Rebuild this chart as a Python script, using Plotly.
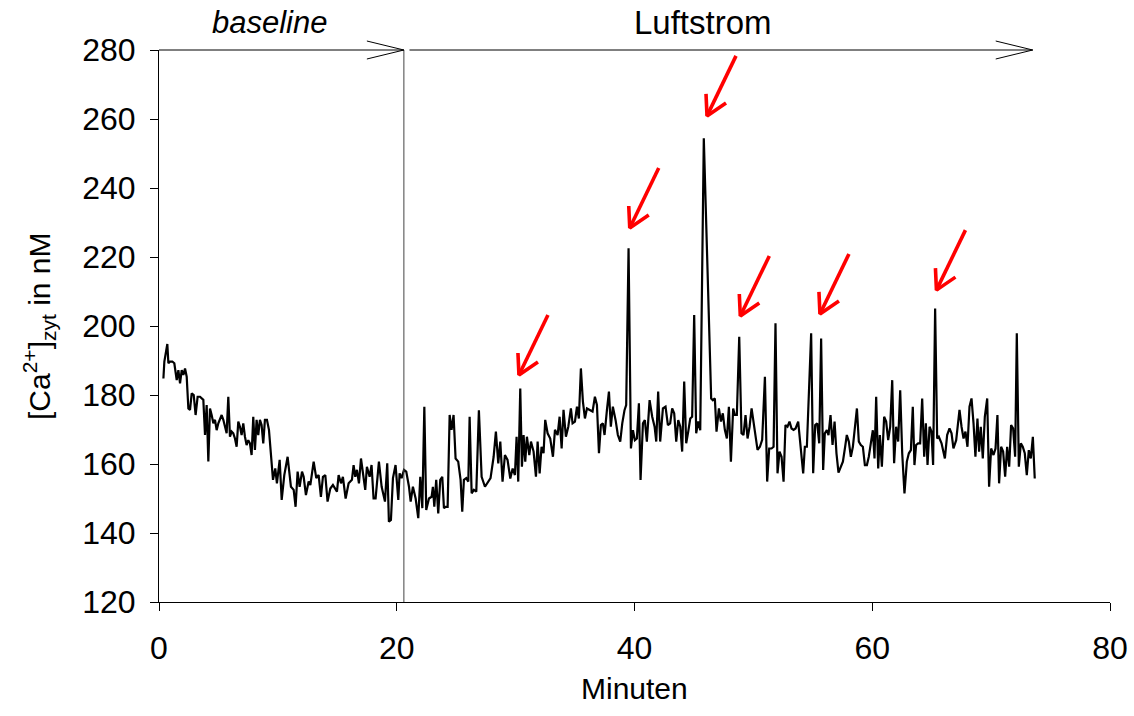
import plotly.graph_objects as go

# ---------------- data ----------------
time_min = [
    0.37, 0.45, 0.70, 0.79, 0.93, 1.12, 1.29, 1.49, 1.63, 1.77, 1.91, 2.05, 2.19, 2.33, 2.47, 2.61, 2.75, 2.92, 3.08, 3.25,
    3.45, 3.59, 3.73, 3.87, 4.01, 4.15, 4.29, 4.43, 4.57, 4.71, 4.85, 4.99, 5.13, 5.27, 5.41, 5.55, 5.69, 5.83, 5.97, 6.11,
    6.25, 6.39, 6.53, 6.67, 6.81, 6.95, 7.09, 7.23, 7.37, 7.51, 7.65, 7.79, 7.93, 8.07, 8.21, 8.35, 8.49, 8.63, 8.77, 8.91,
    9.08, 9.25, 9.59, 9.78, 9.92, 10.15, 10.32, 10.54, 10.82, 11.10, 11.33, 11.49, 11.66, 11.83, 12.03, 12.17, 12.36, 12.59,
    12.73, 13.01, 13.23, 13.43, 13.62, 13.79, 13.99, 14.18, 14.41, 14.63, 14.97, 15.11, 15.31, 15.47, 15.70, 15.95, 16.23,
    16.37, 16.51, 16.65, 16.82, 16.99, 17.21, 17.35, 17.49, 17.72, 17.88, 18.05, 18.22,
    18.50, 18.73, 19.01, 19.20, 19.34, 19.51, 19.68, 19.90, 20.13, 20.24, 20.41, 20.61, 20.80, 21.03, 21.17, 21.36, 21.59,
    21.81, 21.98, 22.15, 22.32, 22.48, 22.71, 22.93, 23.04, 23.16, 23.32, 23.49, 23.66, 23.83, 23.97, 24.11, 24.28, 24.45,
    24.61, 24.78, 24.95, 25.17, 25.37, 25.51, 25.65, 25.85, 26.02, 26.13, 26.30, 26.49, 26.69, 26.91, 27.14, 27.42, 27.70,
    27.89,
    28.15, 28.34, 28.54, 28.71, 28.90, 29.10, 29.32, 29.55, 29.75, 29.94, 30.08, 30.22, 30.39, 30.53, 30.67, 30.81, 30.95,
    31.15, 31.29, 31.51, 31.71, 31.85, 32.02, 32.18, 32.35, 32.49, 32.69, 32.91, 33.14, 33.31, 33.53, 33.70, 33.87, 34.03,
    34.23, 34.43, 34.65, 34.79, 34.99, 35.16, 35.32, 35.49, 35.66, 35.83, 36.00, 36.22, 36.47, 36.67, 36.84, 37.01, 37.17,
    37.34, 37.48, 37.68, 37.85, 38.01, 38.18, 38.41, 38.60, 38.80, 38.97, 39.16, 39.30, 39.50, 39.70, 39.87, 40.03, 40.20,
    40.37, 40.51, 40.71, 40.87, 41.04, 41.27, 41.49, 41.69, 41.83, 41.99, 42.16, 42.39, 42.61, 42.81, 43.00, 43.17, 43.34,
    43.51, 43.68, 43.85, 44.01, 44.18, 44.35, 44.52, 44.69, 44.85, 45.02, 45.19, 45.36, 45.53, 45.83, 46.45, 46.59,
    46.76, 46.90, 47.10, 47.27, 47.43, 47.60, 47.77, 47.94, 48.11, 48.30, 48.44, 48.61, 48.81, 49.00, 49.17, 49.34, 49.51,
    49.68, 49.85, 50.07, 50.35, 50.55, 50.74, 50.97, 51.16, 51.33, 51.53, 51.70, 51.86, 52.03, 52.20, 52.37, 52.54, 52.70,
    52.87, 53.04, 53.21, 53.38, 53.55, 53.77, 53.99, 54.19, 54.33, 54.50, 54.86, 55.03, 55.20, 55.37, 55.54, 55.70, 55.87,
    56.01,
    56.18, 56.32, 56.49, 56.66, 56.83, 56.99, 57.16, 57.36, 57.53, 57.72, 57.86, 58.03, 58.20, 58.37, 58.54, 58.71, 58.87,
    59.04, 59.21, 59.38, 59.55, 59.71, 59.88, 60.05, 60.19, 60.33, 60.50, 60.64, 60.81, 61.00, 61.17, 61.34, 61.51, 61.68,
    61.84, 62.01, 62.18, 62.35, 62.52, 62.71, 62.91, 63.08, 63.25, 63.41, 63.55, 63.69, 63.86, 64.03, 64.20, 64.37, 64.51,
    64.65, 64.82, 64.98, 65.12, 65.29, 65.46,
    65.60, 65.83, 66.11, 66.30, 66.50, 66.67, 66.83, 67.06, 67.34, 67.51, 67.68, 67.84, 68.01, 68.18, 68.35, 68.52, 68.68,
    68.85, 68.99, 69.13, 69.30, 69.47, 69.67, 69.83, 70.00, 70.20, 70.37, 70.53, 70.67, 70.84, 71.01, 71.18, 71.35, 71.52,
    71.68, 71.85, 72.02, 72.16, 72.33, 72.50, 72.66, 72.83, 73.00, 73.17, 73.34, 73.51, 73.67,
]

ca_nM = [
    184.8, 189.7, 194.8, 189.2, 189.7, 189.7, 189.2, 184.3, 187.2, 183.4, 187.2, 185.8, 187.7, 185.3, 176.1, 175.7, 180.5, 180.0, 174.2, 179.5,
    179.5, 179.0, 178.6, 168.4, 177.1, 160.7, 176.1, 174.2, 171.8, 172.8, 169.8, 171.8, 172.8, 174.2, 172.8, 170.8, 168.9, 179.5, 167.9, 169.4,
    168.9, 167.4, 165.0, 172.3, 170.8, 168.4, 171.8, 167.9, 165.5, 166.9, 166.0, 162.6, 173.7, 164.1, 172.8, 168.4, 172.8, 171.3, 166.0, 172.8,
    172.8, 169.9, 155.4, 158.7, 154.4, 161.2, 149.6, 156.8, 162.1, 153.4, 152.5, 147.6, 157.8, 153.4, 157.8, 156.3, 151.0, 154.9,
    153.9, 160.7, 155.9, 156.8, 150.5, 156.3, 156.8, 149.1, 152.9, 153.9, 152.0, 156.8, 154.4, 156.3, 150.0, 154.4, 155.4,
    159.7, 156.3, 158.3, 154.4, 161.6, 156.8, 152.5, 159.2, 156.3, 159.7, 150.0, 150.0,
    160.7, 153.4, 149.1, 160.2, 143.3, 143.8, 155.9, 159.7, 149.6, 157.3, 155.9, 158.3, 157.8, 153.4, 149.1, 153.4, 150.0,
    144.3, 156.3, 147.2, 176.6, 146.7, 150.0, 150.5, 153.4, 147.6, 155.4, 145.7, 155.4, 156.3, 147.2, 147.6, 147.6, 174.2,
    169.9, 174.2, 161.6, 160.7, 155.4, 146.2, 155.4, 155.9, 154.9, 173.7, 151.5, 152.5, 152.0, 175.6, 156.3, 153.4, 154.9,
    155.9,
    162.1, 169.4, 160.2, 166.5, 154.9, 162.6, 161.2, 155.8, 158.7, 156.8, 167.9, 154.9, 181.9, 159.2, 168.4, 160.7, 167.9,
    162.6, 166.5, 163.6, 156.3, 166.5, 157.3, 165.0, 163.1, 172.8, 168.9, 167.4, 162.1, 169.9, 168.4, 173.7, 164.5, 175.7,
    167.9, 170.8, 176.1, 171.8, 172.3, 176.6, 173.2, 187.7, 178.1, 173.2, 176.1, 175.7, 175.2, 179.5, 177.1, 163.1, 171.3,
    171.8, 168.4, 175.6, 181.0, 170.8, 176.6, 172.7, 168.4, 166.5, 171.8, 175.6, 177.1, 222.5, 164.5, 169.8, 166.9, 167.4,
    177.6, 155.4, 171.8, 172.7, 166.5, 178.5, 173.7, 170.8, 166.5, 181.0, 166.5, 176.1, 176.6, 171.3, 171.8, 176.1, 174.7,
    166.5, 172.7, 170.8, 163.6, 183.9, 166.0, 169.4, 173.2, 173.7, 203.2, 168.9, 172.3, 169.8, 254.4, 179.0, 178.5,
    179.0, 169.4, 176.1, 172.3, 174.7, 169.9, 167.4, 176.6, 160.7, 176.1, 174.2, 174.2, 196.9, 168.9, 168.4, 174.2, 167.4,
    170.8, 176.1, 170.3, 164.1, 165.0, 167.0, 185.3, 154.9, 164.5, 164.5, 165.0, 200.8, 157.3, 163.6, 162.1, 154.9, 171.3,
    170.8, 172.3, 170.3, 169.9, 170.3, 172.3, 165.0, 157.3, 165.0, 165.0, 197.9, 157.3, 171.3, 171.8, 166.0, 196.4, 158.3,
    168.9,
    169.8, 168.4, 174.2, 165.5, 172.3, 163.1, 157.5, 159.2, 160.7, 165.0, 168.4, 166.5, 162.1, 165.0, 169.8, 176.1, 166.5,
    165.5, 165.0, 159.7, 159.7, 162.1, 166.0, 169.8, 161.6, 179.5, 158.7, 168.4, 159.2, 173.7, 172.3, 166.9, 170.8, 184.3,
    160.2, 170.8, 166.5, 181.4, 163.1, 151.5, 160.7, 163.1, 164.0, 176.6, 159.7, 165.5, 166.0, 166.0, 179.0, 162.1, 171.8,
    159.7, 170.8, 169.4, 159.7, 205.1, 167.4,
    167.9, 166.0, 161.6, 168.4, 170.3, 168.9, 164.5, 166.9, 175.7, 170.8, 167.4, 169.4, 165.0, 176.6, 179.0, 171.8, 162.1,
    173.2, 163.6, 170.8, 161.6, 173.7, 179.0, 153.4, 164.5, 162.6, 164.5, 174.2, 154.4, 165.0, 163.6, 156.3, 165.0, 159.2,
    171.3, 170.3, 162.1, 197.9, 159.2, 166.0, 165.0, 163.1, 156.8, 164.0, 161.6, 167.9, 155.8,
]

x_ticks = [0, 20, 40, 60, 80]
y_ticks = [120, 140, 160, 180, 200, 220, 240, 260, 280]

# phases (minutes)
phase_names = ["<i>baseline</i>", "Luftstrom"]
phase_start = [0.0, 21.07]
phase_end = [20.6, 73.5]
phase_label_x = [9.3, 45.8]
phase_font = [31, 33]
stim_onset = 20.6

# red arrows: tip position (minute, nM) pointing at the transients
arrow_tip_x = [30.28, 39.6, 46.1, 48.9, 55.6, 65.4]
arrow_tip_y = [185.8, 228.4, 260.9, 202.9, 203.5, 210.4]

# ---------------- layout geometry ----------------
W, H = 1134, 716
ML, MT = 159, 50
PW, PH = 1110 - 159, 602 - 50
MR = W - ML - PW
MB = H - MT - PH
XR = [0, 80]
YR = [120, 280]
FONT = "Liberation Sans, Arial, sans-serif"
TICK_FS = 32
FS = 30


def dx(p):
    return p * (XR[1] - XR[0]) / PW


def dy(p):  # p pixels upward
    return p * (YR[1] - YR[0]) / PH


fig = go.Figure()
fig.add_trace(go.Scatter(x=time_min, y=ca_nM, mode="lines",
                         line=dict(color="black", width=2.2),
                         showlegend=False, hoverinfo="skip"))

# red arrows
ax_, ay_ = [], []
for xt, yt in zip(arrow_tip_x, arrow_tip_y):
    ax_ += [xt + dx(-1), xt, xt + dx(19), None, xt, xt + dx(29), None]
    ay_ += [yt + dy(22), yt, yt + dy(13), None, yt, yt + dy(60), None]
fig.add_trace(go.Scatter(x=ax_, y=ay_, mode="lines",
                         line=dict(color="#ff0000", width=3.6),
                         showlegend=False, hoverinfo="skip"))

shapes = []
# stimulus onset vertical line
xo = (stim_onset - XR[0]) / (XR[1] - XR[0])
shapes.append(dict(type="line", xref="paper", yref="paper", x0=xo, x1=xo, y0=0, y1=1,
                   line=dict(color="#444444", width=1)))
# phase arrows on top
for s, e in zip(phase_start, phase_end):
    xs = (s - XR[0]) / (XR[1] - XR[0])
    xe = (e - XR[0]) / (XR[1] - XR[0])
    shapes.append(dict(type="line", xref="paper", yref="paper", x0=xs, x1=xe, y0=1, y1=1,
                       line=dict(color="black", width=1)))
    hx = 37 / PW
    hy = 9 / PH
    shapes.append(dict(type="path", xref="paper", yref="paper",
                       path=f"M{xe - hx},{1 + hy} L{xe},1 L{xe - hx},{1 - hy}",
                       line=dict(color="black", width=1)))

annotations = []
for name, lx, fs in zip(phase_names, phase_label_x, phase_font):
    annotations.append(dict(text=name, xref="paper", yref="paper",
                            x=(lx - XR[0]) / (XR[1] - XR[0]), y=1 + 28 / PH,
                            xanchor="center", yanchor="middle", showarrow=False,
                            font=dict(family=FONT, size=fs, color="black")))
annotations.append(dict(text="[Ca<sup>2+</sup>]<sub>zyt</sub> in nM", xref="paper", yref="paper",
                        x=(39 - ML) / PW, y=0.5, textangle=-90, xanchor="center", yanchor="middle",
                        showarrow=False, font=dict(family=FONT, size=FS, color="black")))
annotations.append(dict(text="Minuten", xref="paper", yref="paper",
                        x=0.5, y=-(688 - 602) / PH, xanchor="center", yanchor="middle",
                        showarrow=False, font=dict(family=FONT, size=FS, color="black")))

fig.update_layout(
    width=W, height=H, autosize=False,
    margin=dict(l=ML, r=MR, t=MT, b=MB, pad=0, autoexpand=False),
    paper_bgcolor="white", plot_bgcolor="white",
    font=dict(family=FONT, size=FS, color="black"),
    shapes=shapes, annotations=annotations,
    xaxis=dict(range=XR, tickvals=x_ticks, ticktext=[str(v) for v in x_ticks], automargin=False,
               showgrid=False, zeroline=False, showline=True, linecolor="black", linewidth=1,
               ticks="outside", ticklen=8, tickwidth=1, tickcolor="black",
               tickfont=dict(family=FONT, size=TICK_FS, color="black"), ticklabelstandoff=10),
    yaxis=dict(range=YR, tickvals=y_ticks, ticktext=[str(v) for v in y_ticks], automargin=False,
               showgrid=False, zeroline=False, showline=True, linecolor="black", linewidth=1,
               ticks="outside", ticklen=8, tickwidth=1, tickcolor="black",
               tickfont=dict(family=FONT, size=TICK_FS, color="black"), ticklabelstandoff=8),
)

# remove the browser's default 8px body margin so the figure fills the window exactly
fig.write_html("out.html", config={"displayModeBar": False},
               post_script="document.body.style.margin='0';document.body.style.overflow='hidden';")
